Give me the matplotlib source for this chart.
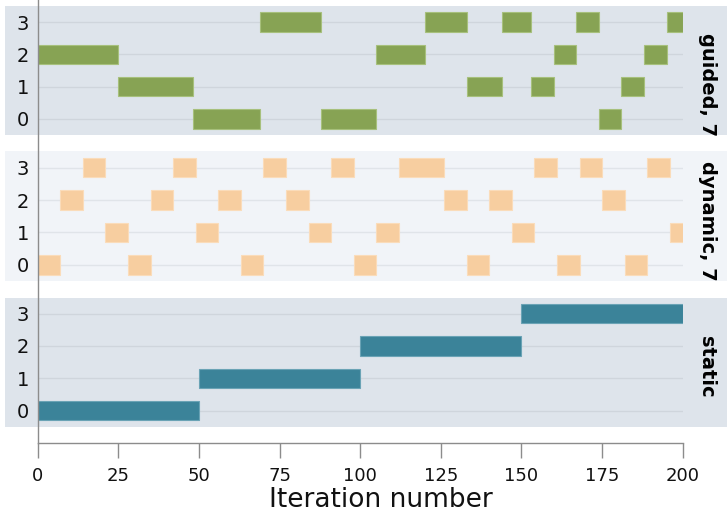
import matplotlib
matplotlib.use("Agg")
import matplotlib.pyplot as plt
from matplotlib.patches import Rectangle

# ---- data ----
threads = [0, 1, 2, 3]
x_ticks = [0, 25, 50, 75, 100, 125, 150, 175, 200]

guided_start = [0, 25, 48, 69, 88, 105, 120, 133, 144, 153, 160, 167, 174, 181, 188, 195]
guided_end = [25, 48, 69, 88, 105, 120, 133, 144, 153, 160, 167, 174, 181, 188, 195, 200]
guided_thread = [2, 1, 0, 3, 0, 2, 3, 1, 3, 1, 2, 3, 0, 1, 2, 3]

dynamic_start = [0, 7, 14, 21, 28, 35, 42, 49, 56, 63, 70, 77, 84, 91, 98, 105, 112,
                 126, 133, 140, 147, 154, 161, 168, 175, 182, 189, 196]
dynamic_end = [7, 14, 21, 28, 35, 42, 49, 56, 63, 70, 77, 84, 91, 98, 105, 112, 126,
               133, 140, 147, 154, 161, 168, 175, 182, 189, 196, 200]
dynamic_thread = [0, 2, 3, 1, 0, 2, 3, 1, 2, 0, 3, 2, 1, 3, 0, 1, 3,
                  2, 0, 2, 1, 3, 0, 3, 2, 0, 3, 1]

static_start = [0, 50, 100, 150]
static_end = [50, 100, 150, 200]
static_thread = [0, 1, 2, 3]

panel_labels = ["guided, 7", "dynamic, 7", "static"]

# ---- style ----
W, H = 727, 513
fig = plt.figure(figsize=(W / 100, H / 100), dpi=100)
plt.rcParams['font.family'] = ['DejaVu Sans']

x_left, x_right = 37.7, 682.7
panels = [
    dict(top=6.0, bottom=135.0, bg="#dee4eb", grid="#cfd5dc", color="#87a354", edge="#a7c07c",
         start=guided_start, end=guided_end, thread=guided_thread, label=panel_labels[0], label_y=85),
    dict(top=151.5, bottom=281.0, bg="#f1f4f8", grid="#e0e4e9", color="#f7cea0", edge="#fadcba",
         start=dynamic_start, end=dynamic_end, thread=dynamic_thread, label=panel_labels[1], label_y=221),
    dict(top=297.5, bottom=426.8, bg="#dee4eb", grid="#cfd5dc", color="#3b8399", edge="#6aa3b5",
         start=static_start, end=static_end, thread=static_thread, label=panel_labels[2], label_y=367),
]


def fx(px):
    return px / W


def fy(py):
    return 1 - py / H


for p in panels:
    # background band extending over tick labels and row header
    fig.patches.append(Rectangle((fx(5), fy(p["bottom"])), fx(W) - fx(5),
                                 fy(p["top"]) - fy(p["bottom"]),
                                 transform=fig.transFigure, facecolor=p["bg"],
                                 edgecolor="none", zorder=-5))
    ax = fig.add_axes([fx(x_left), fy(p["bottom"]), fx(x_right) - fx(x_left),
                       fy(p["top"]) - fy(p["bottom"])])
    ax.set_facecolor("none")
    ax.set_xlim(0, 200)
    ax.set_ylim(-0.5, 3.5)
    for s in ax.spines.values():
        s.set_visible(False)
    ax.set_xticks([])
    ax.set_yticks(threads)
    ax.set_yticklabels([str(t) for t in threads], fontsize=14, color="#111111")
    ax.tick_params(axis="y", length=0, pad=6)
    for t in threads:
        ax.axhline(t, color=p["grid"], lw=1.0, zorder=0)
    widths = [e - s for s, e in zip(p["start"], p["end"])]
    ax.barh(p["thread"], widths, left=p["start"], height=0.6, color=p["color"],
            edgecolor=p["edge"], linewidth=0.8, zorder=2)
    fig.text(fx(707), fy(p["label_y"]), p["label"], rotation=-90, fontsize=14,
             fontweight="bold", ha="center", va="center", color="#000000")

# frame axes holding the shared axis lines
axf = fig.add_axes([fx(x_left), fy(443.3), fx(x_right) - fx(x_left), fy(0) - fy(443.3)])
axf.set_facecolor("none")
axf.set_xlim(0, 200)
axf.set_yticks([])
axf.set_xticks(x_ticks)
axf.set_xticklabels([str(v) for v in x_ticks], fontsize=13, color="#111111")
axf.tick_params(axis="x", length=10.8, width=1.0, color="#8c8c8c", pad=6)
for side in ["top", "right"]:
    axf.spines[side].set_visible(False)
for side in ["left", "bottom"]:
    axf.spines[side].set_color("#8c8c8c")
    axf.spines[side].set_linewidth(1.0)

fig.text(fx(381), fy(500), "Iteration number", fontsize=19, ha="center", va="center",
         color="#111111")

fig.savefig("out.png", dpi=100)
